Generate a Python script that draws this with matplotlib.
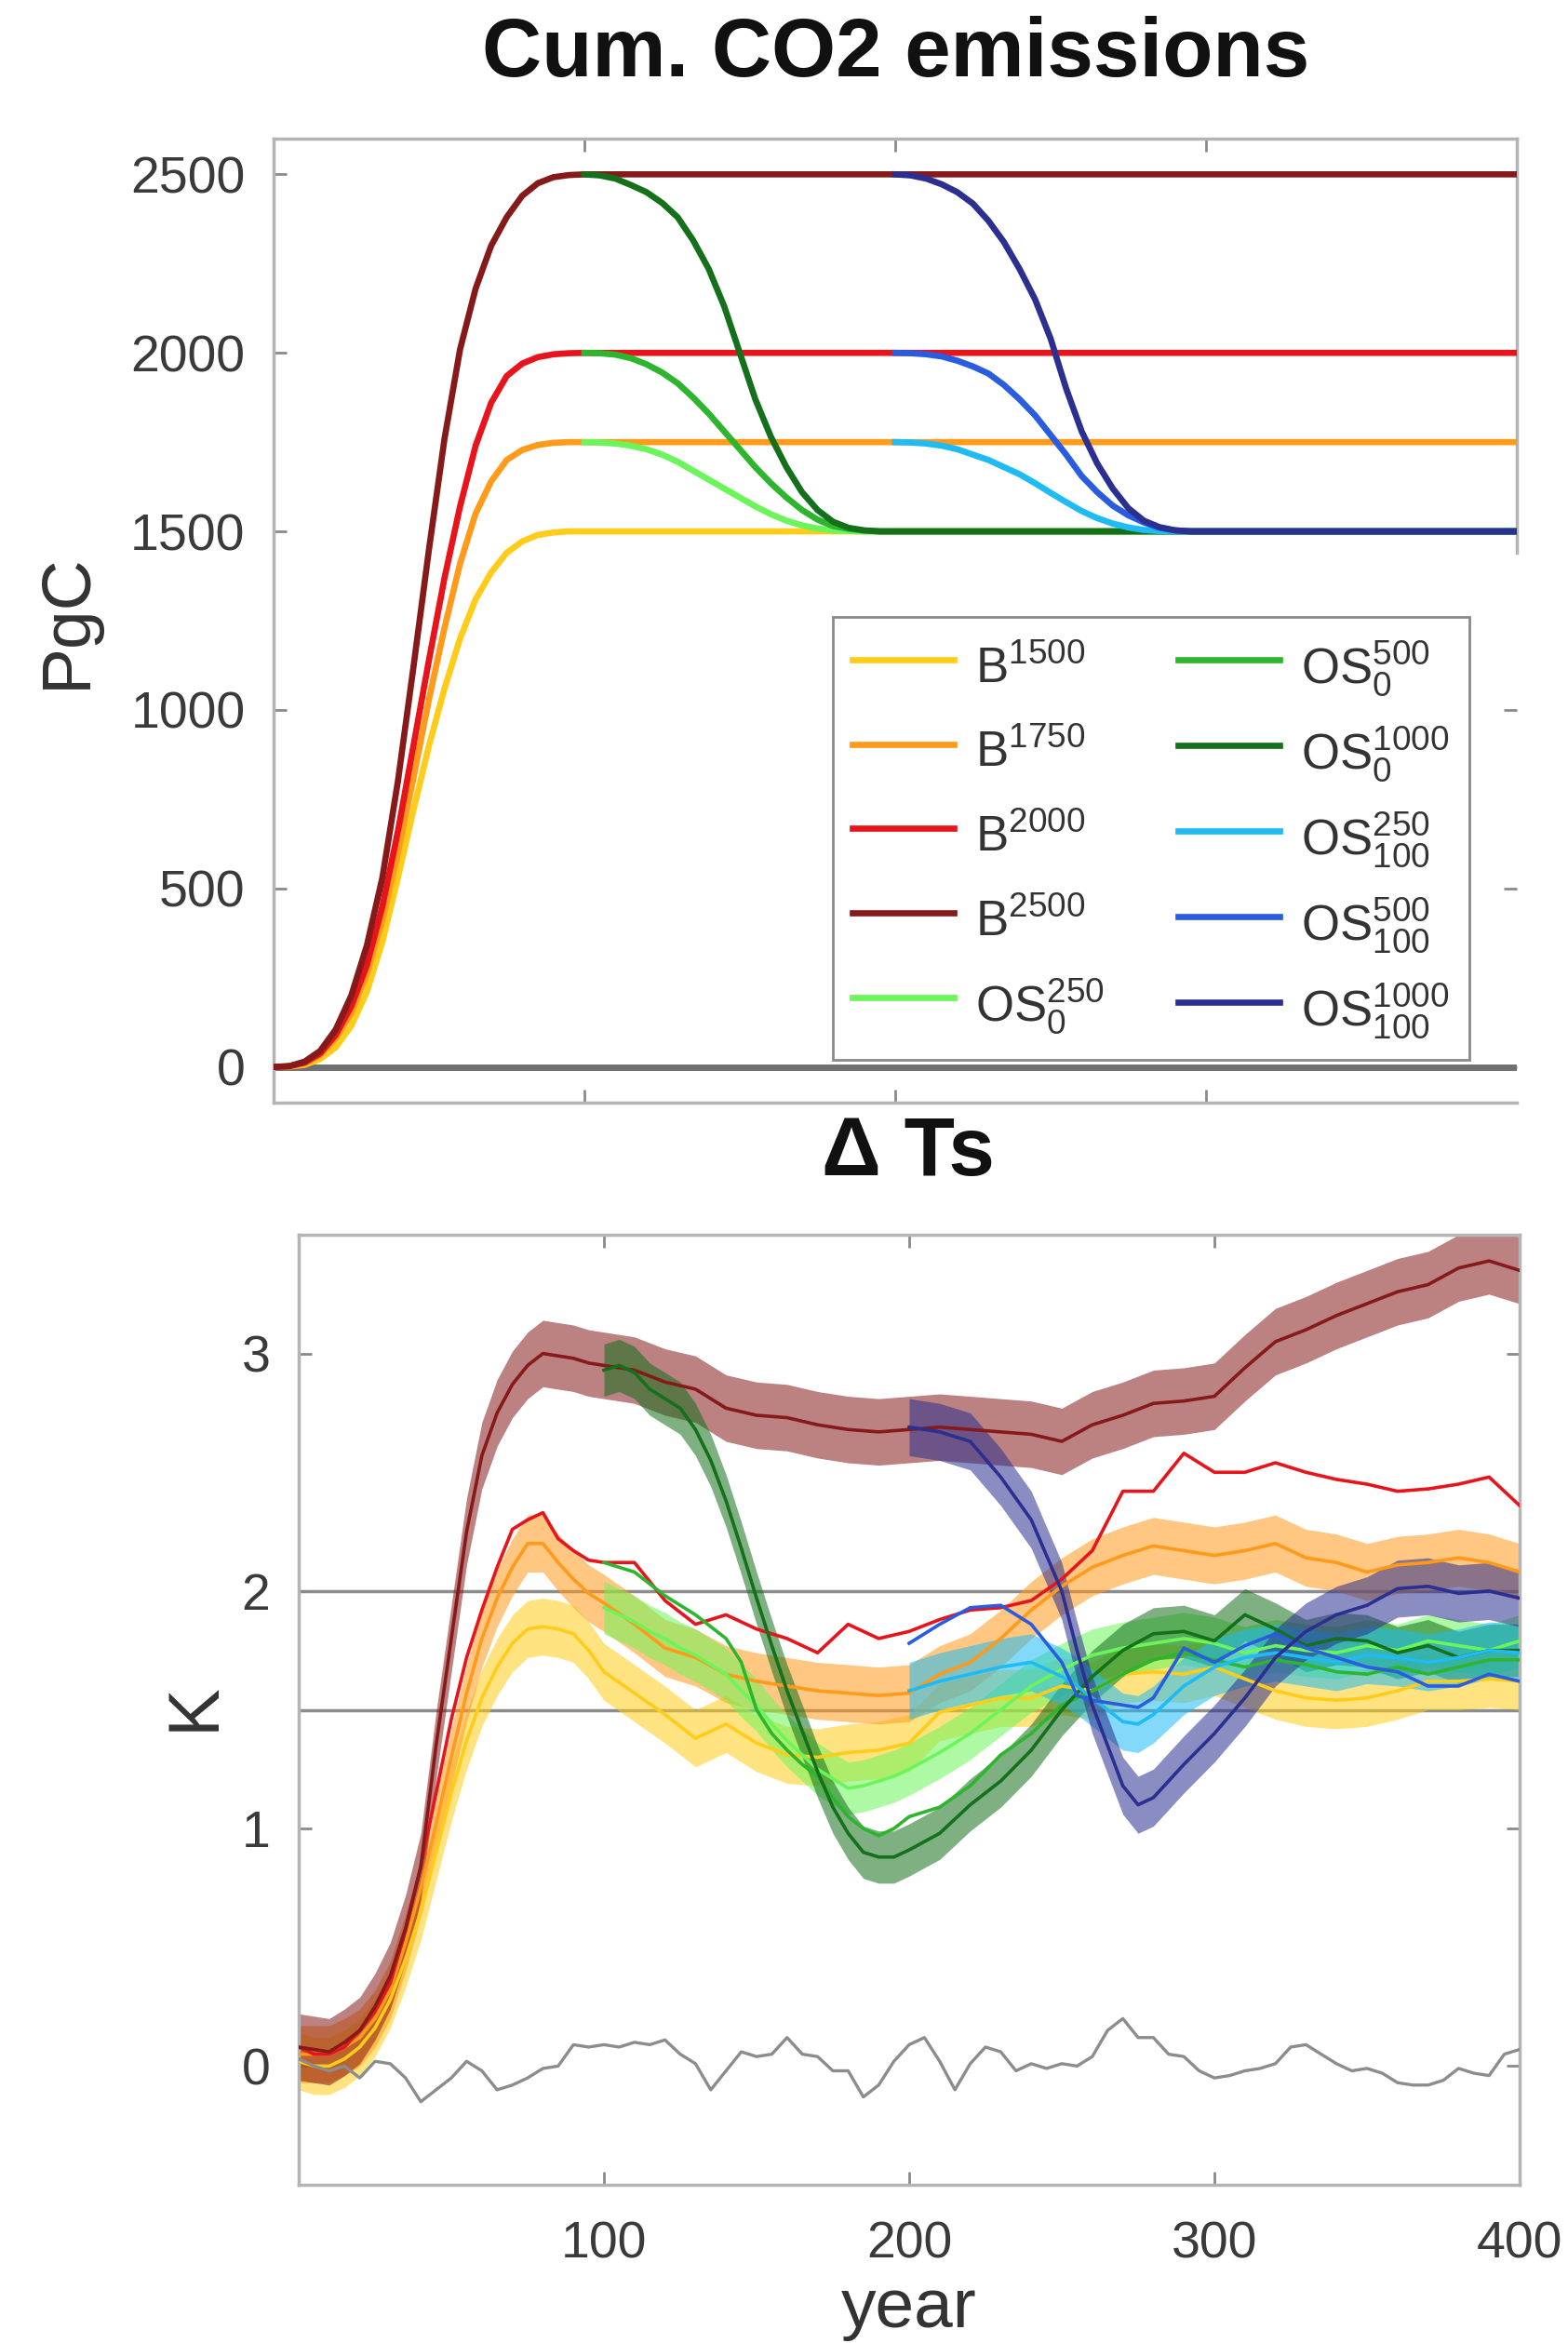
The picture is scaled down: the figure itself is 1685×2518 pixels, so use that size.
import matplotlib
matplotlib.use("Agg")
import matplotlib.pyplot as plt

plt.rcParams['font.family'] = ['Liberation Sans', 'DejaVu Sans']
plt.rcParams['mathtext.fontset'] = 'custom'
plt.rcParams['mathtext.rm'] = 'Liberation Sans'
plt.rcParams['mathtext.it'] = 'Liberation Sans'
plt.rcParams['mathtext.bf'] = 'Liberation Sans:bold'
plt.rcParams['mathtext.default'] = 'rm'

# ---------------- data: cumulative emissions (PgC) ----------------
yrs_rise = [0, 5, 10, 15, 20, 25, 30, 35, 40, 45, 50, 55, 60, 65, 70, 75, 80, 85, 90, 95, 100, 400]
cum_B1500 = [0, 1, 6, 22, 55, 115, 210, 350, 530, 720, 900, 1060, 1200, 1310, 1385, 1440, 1472, 1490, 1497, 1500, 1500, 1500]
cum_B1750 = [0, 2, 10, 33, 80, 150, 260, 410, 600, 810, 1030, 1230, 1410, 1550, 1640, 1700, 1728, 1742, 1748, 1750, 1750, 1750]
cum_B2000 = [0, 2, 12, 38, 90, 170, 285, 450, 660, 900, 1140, 1370, 1570, 1740, 1860, 1935, 1970, 1988, 1996, 1999, 2000, 2000]
cum_B2500 = [0, 2, 15, 45, 105, 200, 340, 530, 800, 1120, 1450, 1760, 2010, 2180, 2300, 2380, 2440, 2475, 2492, 2498, 2500, 2500]

yrs_os0 = [100, 105, 110, 115, 120, 125, 130, 135, 140, 145, 150, 155, 160, 165, 170, 175, 180, 185, 190, 195, 200, 400]
cum_OS0_250 = [1750, 1749, 1746, 1740, 1730, 1715, 1695, 1670, 1645, 1620, 1595, 1570, 1548, 1530, 1517, 1508, 1503, 1501, 1500, 1500, 1500, 1500]
cum_OS0_500 = [2000, 1999, 1995, 1985, 1968, 1945, 1915, 1875, 1830, 1780, 1730, 1680, 1635, 1595, 1560, 1533, 1515, 1507, 1502, 1500, 1500, 1500]
cum_OS0_1000 = [2500, 2497, 2488, 2470, 2450, 2420, 2380, 2315, 2235, 2130, 2000, 1870, 1765, 1680, 1610, 1560, 1527, 1510, 1503, 1500, 1500, 1500]

yrs_os100 = [200, 205, 210, 215, 220, 225, 230, 235, 240, 245, 250, 255, 260, 265, 270, 275, 280, 285, 290, 295, 300, 400]
cum_OS100_250 = [1750, 1749, 1746, 1740, 1730, 1715, 1700, 1680, 1660, 1635, 1608, 1582, 1557, 1537, 1522, 1511, 1504, 1501, 1500, 1500, 1500, 1500]
cum_OS100_500 = [2000, 1999, 1996, 1990, 1978, 1962, 1942, 1910, 1870, 1825, 1770, 1715, 1655, 1610, 1572, 1545, 1525, 1510, 1503, 1500, 1500, 1500]
cum_OS100_1000 = [2500, 2497, 2488, 2472, 2450, 2418, 2370, 2310, 2235, 2150, 2040, 1900, 1780, 1690, 1620, 1565, 1530, 1512, 1503, 1500, 1500, 1500]

yrs_ctrl_cum = [0, 400]
cum_ctrl = [0, 0]

# ---------------- data: temperature change (K) ----------------
yrs_B = [0, 5, 10, 15, 20, 25, 30, 35, 40, 45, 50, 55, 60, 65, 70, 75, 80, 85, 90, 95, 100,
         110, 120, 130, 140, 150, 160, 170, 180, 190, 200, 210, 220, 230, 240, 250,
         260, 270, 280, 290, 300, 310, 320, 330, 340, 350, 360, 370, 380, 390, 400]
T_B1500 = [0.02, 0.0, 0.0, 0.03, 0.08, 0.16, 0.28, 0.45, 0.65, 0.9, 1.15, 1.37, 1.55, 1.68, 1.78, 1.84, 1.85, 1.84, 1.82, 1.75, 1.66,
           1.57, 1.48, 1.38, 1.44, 1.36, 1.31, 1.30, 1.32, 1.33, 1.36, 1.49, 1.52, 1.55, 1.55, 1.60,
           1.58, 1.65, 1.66, 1.65, 1.68, 1.63, 1.58, 1.55, 1.54, 1.55, 1.58, 1.62, 1.62, 1.63, 1.62]
T_B1750 = [0.05, 0.05, 0.05, 0.08, 0.12, 0.2, 0.32, 0.52, 0.75, 1.02, 1.3, 1.57, 1.8, 1.97, 2.1, 2.2, 2.2, 2.12, 2.05, 1.99, 1.95,
           1.86, 1.76, 1.72, 1.65, 1.62, 1.60, 1.58, 1.57, 1.56, 1.57, 1.65, 1.70, 1.80, 1.92, 2.02,
           2.10, 2.15, 2.19, 2.17, 2.15, 2.17, 2.20, 2.14, 2.12, 2.08, 2.11, 2.12, 2.14, 2.12, 2.08]
T_B2000 = [0.08, 0.05, 0.05, 0.08, 0.15, 0.23, 0.35, 0.57, 0.84, 1.15, 1.46, 1.72, 1.92, 2.1, 2.26, 2.3, 2.33, 2.22, 2.17, 2.13, 2.12,
           2.12, 1.96, 1.86, 1.90, 1.84, 1.80, 1.74, 1.86, 1.80, 1.83, 1.88, 1.92, 1.93, 1.96, 2.05,
           2.17, 2.42, 2.42, 2.58, 2.50, 2.50, 2.54, 2.50, 2.47, 2.45, 2.42, 2.43, 2.45, 2.48, 2.36]
T_B2500 = [0.08, 0.07, 0.06, 0.1, 0.15, 0.25, 0.38, 0.58, 0.84, 1.35, 1.8, 2.25, 2.57, 2.75, 2.87, 2.95, 3.0, 2.99, 2.98, 2.96, 2.95,
           2.93, 2.88, 2.85, 2.77, 2.74, 2.73, 2.70, 2.68, 2.67, 2.68, 2.69, 2.68, 2.67, 2.66, 2.63,
           2.70, 2.74, 2.79, 2.80, 2.82, 2.94, 3.05, 3.10, 3.16, 3.21, 3.26, 3.29, 3.36, 3.39, 3.35]

yrs_OS0 = [100, 105, 110, 115, 120, 125, 130, 135, 140, 145, 150, 155, 160, 165, 170, 175, 180, 185, 190, 195, 200,
           210, 220, 230, 240, 250, 260, 270, 280, 290, 300, 310, 320, 330, 340, 350, 360, 370, 380, 390, 400]
T_OS0_250 = [1.93, 1.90, 1.87, 1.83, 1.80, 1.76, 1.73, 1.69, 1.65, 1.58, 1.52, 1.44, 1.37, 1.31, 1.25, 1.21, 1.17, 1.18, 1.20, 1.22, 1.25,
             1.32, 1.40, 1.50, 1.60, 1.67, 1.73, 1.76, 1.78, 1.80, 1.78, 1.74, 1.77, 1.75, 1.74, 1.77, 1.75, 1.79, 1.77, 1.75, 1.79]
T_OS0_500 = [2.12, 2.10, 2.08, 2.03, 1.98, 1.94, 1.90, 1.85, 1.80, 1.70, 1.50, 1.40, 1.33, 1.27, 1.22, 1.13, 1.05, 1.00, 0.97, 1.00, 1.05,
             1.09, 1.18, 1.31, 1.40, 1.52, 1.58, 1.65, 1.71, 1.74, 1.71, 1.68, 1.71, 1.69, 1.66, 1.65, 1.68, 1.65, 1.68, 1.71, 1.71]
T_OS0_1000 = [2.93, 2.95, 2.92, 2.85, 2.81, 2.77, 2.68, 2.55, 2.38, 2.18, 1.97, 1.77, 1.58, 1.41, 1.24, 1.09, 0.98, 0.90, 0.88, 0.88, 0.91,
              0.98, 1.10, 1.20, 1.33, 1.50, 1.64, 1.75, 1.82, 1.83, 1.79, 1.90, 1.84, 1.77, 1.80, 1.79, 1.74, 1.77, 1.72, 1.75, 1.75]

yrs_OS100 = [200, 210, 220, 230, 240, 250, 255, 260, 265, 270, 275, 280, 290, 300, 310, 320, 330, 340, 350, 360, 370, 380, 390, 400]
T_OS100_250 = [1.58, 1.62, 1.65, 1.68, 1.70, 1.64, 1.60, 1.55, 1.50, 1.45, 1.44, 1.48, 1.60, 1.68, 1.72, 1.74, 1.72, 1.70, 1.73, 1.72, 1.70, 1.72, 1.75, 1.74]
T_OS100_500 = [1.78, 1.86, 1.93, 1.94, 1.86, 1.70, 1.56, 1.54, 1.53, 1.52, 1.51, 1.55, 1.76, 1.70, 1.77, 1.82, 1.76, 1.72, 1.68, 1.66, 1.60, 1.60, 1.65, 1.62]
T_OS100_1000 = [2.69, 2.67, 2.63, 2.48, 2.30, 2.00, 1.75, 1.52, 1.35, 1.18, 1.10, 1.13, 1.27, 1.40, 1.55, 1.72, 1.83, 1.90, 1.94, 2.01, 2.02, 1.99, 2.00, 1.97]

yrs_ctrl = [0, 5, 10, 15, 20, 25, 30, 35, 40, 45, 50, 55, 60, 65, 70, 75, 80, 85, 90, 95, 100,
            105, 110, 115, 120, 125, 130, 135, 140, 145, 150, 155, 160, 165, 170, 175, 180, 185, 190, 195, 200,
            205, 210, 215, 220, 225, 230, 235, 240, 245, 250, 255, 260, 265, 270, 275, 280, 285, 290, 295, 300,
            305, 310, 315, 320, 325, 330, 335, 340, 345, 350, 355, 360, 365, 370, 375, 380, 385, 390, 395, 400]
T_ctrl = [0.03, 0.0, -0.02, 0.0, -0.05, 0.02, 0.01, -0.05, -0.15, -0.10, -0.05, 0.02, -0.02, -0.10, -0.08, -0.05, -0.01, 0.0, 0.09, 0.08, 0.09,
          0.08, 0.10, 0.09, 0.11, 0.05, 0.01, -0.10, -0.02, 0.06, 0.04, 0.05, 0.12, 0.05, 0.04, -0.02, -0.02, -0.13, -0.08, 0.02, 0.09,
          0.12, 0.02, -0.10, 0.01, 0.08, 0.06, -0.02, 0.01, -0.01, 0.01, 0.0, 0.04, 0.15, 0.20, 0.12, 0.12, 0.05, 0.04, -0.02, -0.05,
          -0.04, -0.02, -0.01, 0.01, 0.08, 0.09, 0.05, 0.01, -0.02, -0.01, -0.03, -0.07, -0.08, -0.08, -0.06, -0.01, -0.03, -0.04, 0.05, 0.07]

ref_levels = [1.5, 2.0]

# ensemble spread (half-width, K) per scenario; None = no band
spread = {
    'B1500': 0.12, 'B1750': 0.12, 'B2000': None, 'B2500': 0.14,
    'OS0_250': 0.11, 'OS0_500': None, 'OS0_1000': 0.11,
    'OS100_250': 0.12, 'OS100_500': None, 'OS100_1000': 0.12,
}

labels = {
    'B1500': r'B$^{1500}$', 'B1750': r'B$^{1750}$', 'B2000': r'B$^{2000}$', 'B2500': r'B$^{2500}$',
    'OS0_250': r'OS$_{0}^{250}$', 'OS0_500': r'OS$_{0}^{500}$', 'OS0_1000': r'OS$_{0}^{1000}$',
    'OS100_250': r'OS$_{100}^{250}$', 'OS100_500': r'OS$_{100}^{500}$', 'OS100_1000': r'OS$_{100}^{1000}$',
}
colors = {
    'B1500': '#FFCC1A', 'B1750': '#FF9A1A', 'B2000': '#E8141C', 'B2500': '#861A1A',
    'OS0_250': '#6CF55A', 'OS0_500': '#2DB52D', 'OS0_1000': '#14701A',
    'OS100_250': '#1EBBF5', 'OS100_500': '#2A5CE0', 'OS100_1000': '#2B2F8F',
}
ctrl_color = '#707070'

order = ['B1500', 'B1750', 'B2000', 'B2500', 'OS0_250', 'OS0_500', 'OS0_1000',
         'OS100_250', 'OS100_500', 'OS100_1000']
cum_data = {
    'B1500': (yrs_rise, cum_B1500), 'B1750': (yrs_rise, cum_B1750),
    'B2000': (yrs_rise, cum_B2000), 'B2500': (yrs_rise, cum_B2500),
    'OS0_250': (yrs_os0, cum_OS0_250), 'OS0_500': (yrs_os0, cum_OS0_500),
    'OS0_1000': (yrs_os0, cum_OS0_1000),
    'OS100_250': (yrs_os100, cum_OS100_250), 'OS100_500': (yrs_os100, cum_OS100_500),
    'OS100_1000': (yrs_os100, cum_OS100_1000),
}
T_data = {
    'B1500': (yrs_B, T_B1500), 'B1750': (yrs_B, T_B1750),
    'B2000': (yrs_B, T_B2000), 'B2500': (yrs_B, T_B2500),
    'OS0_250': (yrs_OS0, T_OS0_250), 'OS0_500': (yrs_OS0, T_OS0_500),
    'OS0_1000': (yrs_OS0, T_OS0_1000),
    'OS100_250': (yrs_OS100, T_OS100_250), 'OS100_500': (yrs_OS100, T_OS100_500),
    'OS100_1000': (yrs_OS100, T_OS100_1000),
}

# ---------------- figure ----------------
W, H = 1685, 2518
fig = plt.figure(figsize=(W / 100, H / 100), dpi=100)
ax1 = fig.add_axes([294 / W, 1 - 1185 / H, (1630 - 294) / W, (1185 - 149) / H])
ax2 = fig.add_axes([321 / W, 1 - 2348 / H, (1633 - 321) / W, (2348 - 1327) / H])

spine_col = '#b4b4b4'
tick_col = '#8a8a8a'
lab_col = '#3a3a3a'

def style(ax):
    for s in ax.spines.values():
        s.set_color(spine_col)
        s.set_linewidth(2.5)
    ax.tick_params(direction='in', length=10, width=2, color=tick_col,
                   top=True, right=True, labelsize=40, labelcolor=lab_col, pad=22)

# top panel
ax1.plot(yrs_ctrl_cum, cum_ctrl, color=ctrl_color, lw=5, solid_capstyle='butt', zorder=2)
handles = []
for k in order:
    x, y = cum_data[k]
    h, = ax1.plot(x, y, color=colors[k], lw=4.8, label=labels[k], zorder=3)
    handles.append(h)
ax1.set_xlim(0, 400)
ax1.set_ylim(-100, 2600)
ax1.set_xticks([100, 200, 300])
ax1.set_xticklabels([])
ax1.set_yticks([0, 500, 1000, 1500, 2000, 2500])
style(ax1)
ax1.spines['right'].set_bounds(1440, 2600)
leg = ax1.legend(handles=handles, ncol=2, loc='upper left',
                 bbox_to_anchor=(0.45, 0.504),
                 fontsize=38, frameon=True, fancybox=False, framealpha=1,
                 edgecolor='#8a8a8a', handlelength=2.05, handleheight=1.5,
                 handletextpad=0.45, labelspacing=0.5, borderpad=0.4,
                 columnspacing=1.5, borderaxespad=0)
leg.get_frame().set_linewidth(2)
for t in leg.get_texts():
    t.set_color('#333333')

# bottom panel
for lv in ref_levels:
    ax2.axhline(lv, color='#8c8c8c', lw=2.5, zorder=1)
for k in order:
    x, y = T_data[k]
    s = spread[k]
    if s is not None:
        ax2.fill_between(x, [v - s for v in y], [v + s for v in y],
                         color=colors[k], alpha=0.55, lw=0, zorder=2)
for k in order:
    x, y = T_data[k]
    ax2.plot(x, y, color=colors[k], lw=2.6, zorder=3)
ax2.plot(yrs_ctrl, T_ctrl, color='#8c8c8c', lw=2.4, zorder=3)
ax2.set_xlim(0, 400)
ax2.set_ylim(-0.5, 3.5)
ax2.set_xticks([100, 200, 300, 400])
ax2.set_yticks([0, 1, 2, 3])
style(ax2)
ax2.tick_params(axis='x', pad=28)

# titles and labels
fig.text(963 / W, 1 - 59 / H, 'Cum. CO2 emissions', ha='center', va='center',
         fontsize=64, fontweight='bold', color='#111111')
fig.text(976 / W, 1 - 1240 / H, '\u0394 Ts', ha='center', va='center',
         fontsize=64, fontweight='bold', color='#111111')
fig.text(72 / W, 1 - 667 / H, 'PgC', ha='center', va='center', rotation=90,
         fontsize=54, color='#333333')
fig.text(209 / W, 1 - 1834 / H, 'K', ha='center', va='center', rotation=90,
         fontsize=56, color='#333333')
fig.text(977 / W, 1 - 2481 / H, 'year', ha='center', va='center',
         fontsize=54, color='#333333')

fig.savefig('out.png', dpi=100)
